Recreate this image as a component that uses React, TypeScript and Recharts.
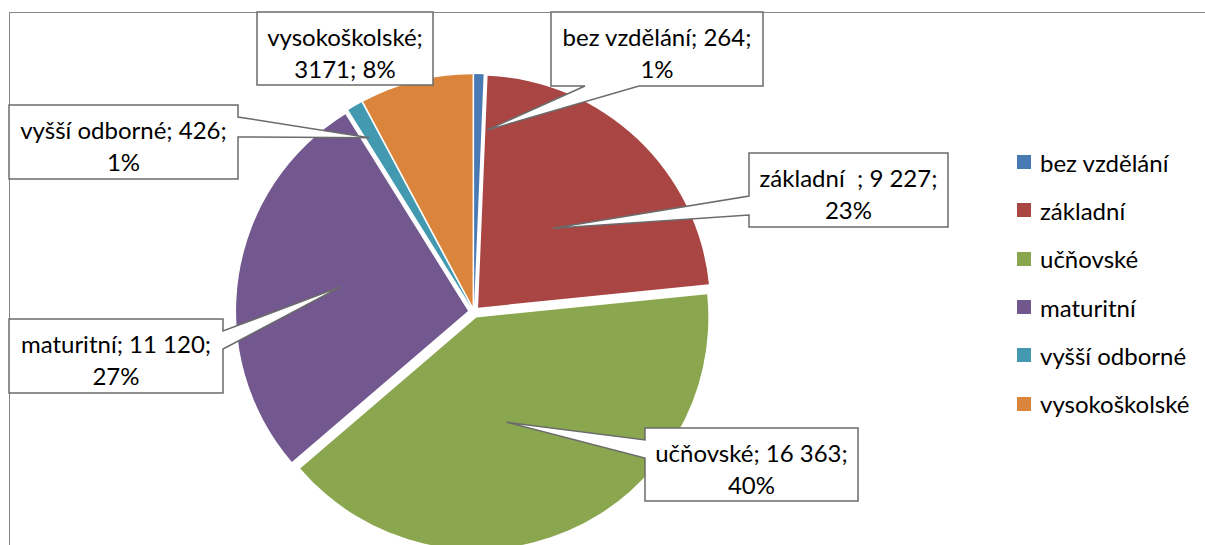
// Pie of education levels (Excel-style exploded pie with callout data labels).

import { PieChart, Pie, Cell, Legend } from "recharts";

const CATEGORIES = ["bez vzdělání", "základní", "učňovské", "maturitní", "vyšší odborné", "vysokoškolské"];
const VALUES = [264, 9227, 16363, 11120, 426, 3171];
// numbers as they are printed in the data labels of the source sheet
const VALUE_TEXT = ["264", "9 227", "16 363", "11 120", "426", "3171"];
const LABEL_NAMES = ["bez vzdělání", "základní  ", "učňovské", "maturitní", "vyšší odborné", "vysokoškolské"];
const COLORS = ["#4a7ab4", "#a94643", "#8aa64f", "#72588e", "#4299b0", "#da843c"];

const W = 1205;
const H = 545;
const FONT = "Lato, 'Open Sans', sans-serif";
const FS = 24;
const CX = 474;
const CY = 312;
const R = 232;
const EXPLODE = 6;

type Callout = {
  x: number; y: number; w: number; h: number;
  side?: "left" | "right" | "bottom";
  b1?: number; b2?: number; // where the pointer leaves the box edge
  rf?: number; da?: number; // pointer tip: fraction of radius, angle tweak (deg)
  split: number; // how many label parts go on the first line
};

// hand-placed label boxes, one per slice (same order as CATEGORIES)
const CALLOUTS: Callout[] = [
  { x: 551, y: 12, w: 212, h: 74, side: "bottom", b1: 585, b2: 639, rf: 0.76, da: 3, split: 2 },
  { x: 749, y: 153, w: 199, h: 74, side: "left", b1: 196, b2: 215, rf: 0.47, da: 0, split: 2 },
  { x: 645, y: 428, w: 213, h: 73, side: "left", b1: 440, b2: 458, rf: 0.47, da: 7, split: 2 },
  { x: 9, y: 319, w: 214, h: 74, side: "right", b1: 331, b2: 349, rf: 0.56, da: 2, split: 2 },
  { x: 9, y: 105, w: 229, h: 74, side: "right", b1: 117, b2: 137, rf: 0.85, da: -1, split: 2 },
  { x: 257, y: 12, w: 176, h: 73, split: 1 },
];

const TOTAL = VALUES.reduce((a, b) => a + b, 0);
// mid angle of each slice, degrees clockwise from 12 o'clock
const MIDS = VALUES.map((v, i) => ((VALUES.slice(0, i).reduce((a, b) => a + b, 0) + v / 2) / TOTAL) * 360);
const rad = (d: number) => (d * Math.PI) / 180;
const shift = (deg: number) => ({ dx: EXPLODE * Math.sin(rad(deg)), dy: -EXPLODE * Math.cos(rad(deg)) });

const data = CATEGORIES.map((name, i) => ({ name, value: VALUES[i] }));

function calloutPath(c: Callout, ax: number, ay: number) {
  const { x, y, w, h } = c;
  const r = x + w, b = y + h;
  if (c.side === "right") return `M${x},${y}L${r},${y}L${r},${c.b1}L${ax},${ay}L${r},${c.b2}L${r},${b}L${x},${b}Z`;
  if (c.side === "left") return `M${x},${y}L${r},${y}L${r},${b}L${x},${b}L${x},${c.b2}L${ax},${ay}L${x},${c.b1}Z`;
  if (c.side === "bottom") return `M${x},${y}L${r},${y}L${r},${b}L${c.b2},${b}L${ax},${ay}L${c.b1},${b}L${x},${b}Z`;
  return `M${x},${y}L${r},${y}L${r},${b}L${x},${b}Z`;
}

function renderCallout(props: any) {
  const { index, midAngle, percent, cx, cy, outerRadius } = props;
  const c = CALLOUTS[index];
  if (!c) return null;
  const cw = 90 - midAngle; // clockwise from top
  const { dx, dy } = shift(cw);
  const a = rad(cw + (c.da ?? 0));
  const rr = (c.rf ?? 0) * outerRadius;
  const ax = cx + dx + rr * Math.sin(a);
  const ay = cy + dy - rr * Math.cos(a);
  const parts = [`${LABEL_NAMES[index]};`, `${VALUE_TEXT[index]};`, `${Math.round(percent * 100)}%`];
  const lines = [parts.slice(0, c.split).join(" "), parts.slice(c.split).join(" ")];
  return (
    <g key={`callout-${index}`}>
      <path d={calloutPath(c, ax, ay)} fill="#fff" stroke="#6b6b6b" strokeWidth={1.5} strokeLinejoin="miter" />
      {lines.map((t, k) => (
        <text
          key={k} x={c.x + c.w / 2} y={c.y + 24 + k * 32} textAnchor="middle" dominantBaseline="central"
          fontSize={FS} fill="#000" style={{ whiteSpace: "pre", fontFamily: FONT }}
        >
          {t}
        </text>
      ))}
    </g>
  );
}

function LegendBox() {
  return (
    <div style={{ fontFamily: FONT, fontSize: FS, color: "#000" }}>
      {CATEGORIES.map((c, i) => (
        <div key={c} style={{ display: "flex", alignItems: "center", height: 48.3 }}>
          <span style={{ display: "inline-block", width: 14, height: 14, background: COLORS[i], marginRight: 9 }} />
          <span>{c}</span>
        </div>
      ))}
    </div>
  );
}

export default function App() {
  return (
    <div style={{ position: "absolute", left: 0, top: 0, width: W, height: H, overflow: "hidden", background: "#fff", fontFamily: FONT }}>
      <div style={{ position: "absolute", left: 9, top: 12, width: 1400, height: 800, border: "1.5px solid #878787" }} />
      <div style={{ position: "absolute", left: 0, top: 0 }}>
        <PieChart width={W} height={H} margin={{ top: 0, right: 0, bottom: 0, left: 0 }}>
          {/* one pie per slice so each slice can be pulled out along its mid angle */}
          {VALUES.map((_, s) => {
            const { dx, dy } = shift(MIDS[s]);
            return (
              <Pie
                key={s} data={data} dataKey="value" nameKey="name"
                cx={CX + dx} cy={CY + dy} outerRadius={R} innerRadius={0}
                startAngle={90} endAngle={-270} stroke="none"
                isAnimationActive={false} legendType="none"
              >
                {data.map((d, i) => (
                  <Cell key={d.name} fill={i === s ? COLORS[i] : "transparent"} stroke="none" />
                ))}
              </Pie>
            );
          })}
          {/* label layer on top */}
          <Pie
            data={data} dataKey="value" nameKey="name" cx={CX} cy={CY} outerRadius={R}
            startAngle={90} endAngle={-270} fill="transparent" stroke="none"
            label={renderCallout} labelLine={false} isAnimationActive={false} legendType="none"
          >
            {data.map((d) => (
              <Cell key={d.name} fill="transparent" stroke="none" />
            ))}
          </Pie>
          <Legend
            layout="vertical" align="right" verticalAlign="top"
            content={() => <LegendBox />}
            wrapperStyle={{ left: 1017, top: 138, width: 188 }}
          />
        </PieChart>
      </div>
    </div>
  );
}
